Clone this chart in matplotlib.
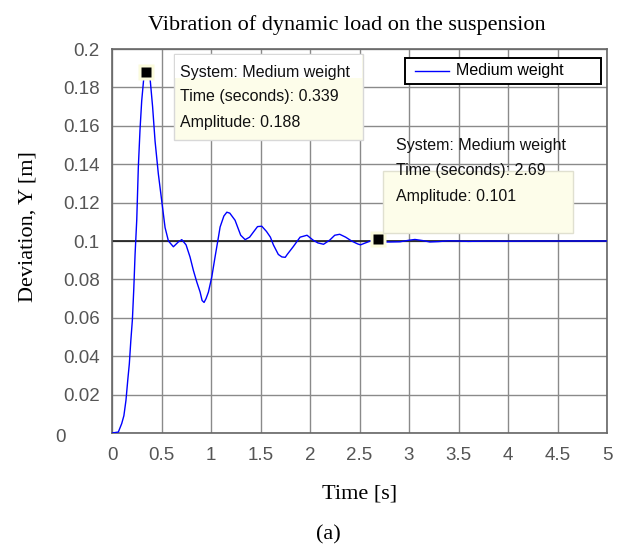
""" Step response of the suspension, medium weight """

from matplotlib import pyplot as plt
from matplotlib.lines import Line2D
from matplotlib.patches import Rectangle

# values
time_s = [0, 0.064, 0.098, 0.12, 0.141, 0.16, 0.175, 0.19, 0.206, 0.22,
          0.233, 0.25, 0.266, 0.283, 0.30, 0.323, 0.339, 0.36, 0.384, 0.41,
          0.435, 0.468, 0.502, 0.536, 0.57, 0.62, 0.67, 0.705, 0.748, 0.788,
          0.822, 0.856, 0.89, 0.91, 0.93, 0.95, 0.974, 1.008, 1.041, 1.075,
          1.092, 1.13, 1.16, 1.19, 1.243, 1.3, 1.345, 1.39, 1.429, 1.47,
          1.513, 1.56, 1.6, 1.63, 1.68, 1.716, 1.75, 1.77, 1.83, 1.9, 1.97,
          2.03, 2.08, 2.137, 2.2, 2.25, 2.3, 2.36, 2.42, 2.48, 2.51, 2.56,
          2.61, 2.69, 2.75, 2.81, 2.91, 3.0, 3.06, 3.14, 3.21, 3.3, 3.4, 3.5,
          3.6, 3.8, 4.0, 4.2, 5.0]
deviation = [0, 0.0005, 0.0049, 0.009, 0.017, 0.028, 0.036, 0.048, 0.059,
             0.075, 0.093, 0.111, 0.1385, 0.158, 0.173, 0.186, 0.188, 0.189,
             0.185, 0.17, 0.152, 0.135, 0.121, 0.107, 0.100, 0.097, 0.0995,
             0.1007, 0.098, 0.0917, 0.0847, 0.0787, 0.0734, 0.069, 0.068,
             0.070, 0.0734, 0.0813, 0.0917, 0.102, 0.1073, 0.113, 0.115,
             0.1145, 0.1108, 0.103, 0.1007, 0.102, 0.1047, 0.1075, 0.1077,
             0.105, 0.102, 0.098, 0.093, 0.0917, 0.0915, 0.093, 0.097, 0.102,
             0.103, 0.1005, 0.099, 0.0983, 0.1005, 0.103, 0.1035, 0.102, 0.1,
             0.0985, 0.098, 0.099, 0.1, 0.101, 0.0995, 0.0995, 0.0996, 0.1004,
             0.1008, 0.1002, 0.0995, 0.0997, 0.1001, 0.1, 0.0998, 0.1, 0.0999,
             0.1, 0.1]
steady_value = 0.1
series_name = "Medium weight"
tips = [(0.339, 0.188, ["System: Medium weight", "Time (seconds): 0.339",
                        "Amplitude: 0.188"]),
        (2.69, 0.101, ["System: Medium weight", "Time (seconds): 2.69",
                       "Amplitude: 0.101"])]
x_ticks = [0, 0.5, 1, 1.5, 2, 2.5, 3, 3.5, 4, 4.5, 5]
x_labels = ["0", "0.5", "1", "1.5", "2", "2.5", "3", "3.5", "4", "4.5", "5"]
y_ticks = [0, 0.02, 0.04, 0.06, 0.08, 0.1, 0.12, 0.14, 0.16, 0.18, 0.2]
y_labels = ["", "0.02", "0.04", "0.06", "0.08", "0.1", "0.12", "0.14",
            "0.16", "0.18", "0.2"]

SANS = "Liberation Sans"
SERIF = "Liberation Serif"
W, H = 624, 544

fig = plt.figure(figsize=(6.24, 5.44), dpi=100)
ax = fig.add_axes([112 / W, 1 - 433 / H, 495 / W, 384 / H])

ax.plot(time_s, deviation, color="#0000ff", lw=1.0, zorder=3)
ax.axhline(steady_value, color="#1a1a1a", lw=1.2, zorder=2)

ax.set_xlim(0, 5)
ax.set_ylim(0, 0.2)
ax.set_xticks(x_ticks)
ax.set_xticklabels(x_labels)
ax.set_yticks(y_ticks)
ax.set_yticklabels(y_labels)
ax.grid(True, color="#8a8a8a", lw=1.0, zorder=1)
ax.tick_params(length=0, labelsize=13.5, colors="#555555")
ax.tick_params(axis="x", pad=10)
ax.tick_params(axis="y", pad=9)
for lab in ax.get_xticklabels() + ax.get_yticklabels():
    lab.set_family(SANS)
for sp in ax.spines.values():
    sp.set_color("#666666")
    sp.set_linewidth(1.2)


def px(x, y):
    """ figure fraction from reference pixel """
    return x / W, 1 - y / H


def pix_rect(x0, y0, x1, y1, **kw):
    fig.patches.append(Rectangle(px(x0, y1), (x1 - x0) / W, (y1 - y0) / H,
                                 transform=fig.transFigure, **kw))


# the lone zero of the y axis sits off to the left in the original
fig.text(*px(61, 437), "0", family=SANS, fontsize=13.5, color="#555555",
         ha="center", va="center")

# datatip markers
for tx, ty, _ in tips:
    ax.plot(tx, ty, "s", ms=12, mfc="#fbfbdc", mec="none", zorder=4)
    ax.plot(tx, ty, "s", ms=7, mfc="black", mec="none", zorder=5)

# datatip boxes
pix_rect(174, 54, 363, 140, fc="#fdfdea", ec="#d8d8d8", lw=1.0, zorder=6)
pix_rect(175, 55, 362, 78, fc="white", ec="none", zorder=6)
pix_rect(383, 171, 573, 233, fc="#fdfdea", ec="#e0e0d0", lw=1.0, zorder=6)

for (tx, ty, lines), (x0, y0) in zip(tips, [(180, 72), (396, 146)]):
    for i, line in enumerate(lines):
        fig.text(*px(x0, y0 + 25 * i), line, family=SANS, fontsize=11.5,
                 va="center", ha="left", color="#111111", zorder=7)

# legend box drawn as in the original
pix_rect(405, 58, 601, 84, fc="white", ec="black", lw=1.4, zorder=8)
fig.lines.append(Line2D([415 / W, 449 / W], [1 - 71 / H, 1 - 71 / H],
                        transform=fig.transFigure, color="#0000ff", lw=1.0,
                        zorder=9))
fig.text(*px(456, 71), series_name, family=SANS, fontsize=11.5,
         va="center", ha="left", color="black", zorder=9)

ax.set_title("Vibration of dynamic load on the suspension", family=SERIF,
             fontsize=16, pad=14, x=(347 - 112) / 495)
ax.set_xlabel("Time [s]", family=SERIF, fontsize=16, labelpad=15)
ax.set_ylabel("Deviation, Y [m]", family=SERIF, fontsize=16)
ax.yaxis.set_label_coords((38 - 112) / 495, (433 - 227) / 384)
fig.text(*px(328, 535), "(a)", family=SERIF, fontsize=16,
         ha="center", va="center")

fig.savefig("out.png", dpi=100)
